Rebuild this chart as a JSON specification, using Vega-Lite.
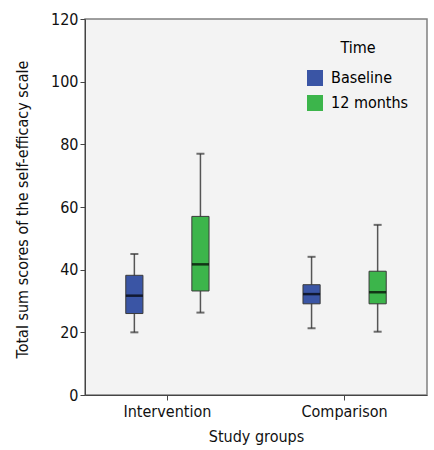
{
  "$schema": "https://vega.github.io/schema/vega-lite/v6.json",
  "width": 342,
  "height": 376,
  "autosize": {"type": "none"},
  "padding": {"left": 85, "top": 19, "right": 7, "bottom": 55},
  "background": "#ffffff",
  "config": {
    "font": "'DejaVu Sans Condensed', 'Liberation Sans', sans-serif",
    "view": {"fill": "#f3f3f3", "stroke": "#808080", "strokeWidth": 1.5},
    "axis": {"labelFont": "'DejaVu Sans Condensed', 'Liberation Sans', sans-serif", "titleFont": "'DejaVu Sans Condensed', 'Liberation Sans', sans-serif", "labelFontSize": 16, "titleFontSize": 16, "labelColor": "#111", "titleColor": "#111", "titleFontWeight": "normal", "domainColor": "#444", "tickColor": "#444", "grid": false},
    "legend": {"labelFont": "'DejaVu Sans Condensed', 'Liberation Sans', sans-serif", "titleFont": "'DejaVu Sans Condensed', 'Liberation Sans', sans-serif"}
  },
  "data": {
    "values": [
      {"group": "Intervention", "time": "Baseline", "lower": 20, "q1": 26, "median": 31.7, "q3": 38.2, "upper": 45},
      {"group": "Intervention", "time": "12 months", "lower": 26.3, "q1": 33.2, "median": 41.7, "q3": 57, "upper": 77},
      {"group": "Comparison", "time": "Baseline", "lower": 21.3, "q1": 29.1, "median": 32.2, "q3": 35.2, "upper": 44.1},
      {"group": "Comparison", "time": "12 months", "lower": 20.2, "q1": 29.1, "median": 32.8, "q3": 39.5, "upper": 54.3}
    ]
  },
  "encoding": {
    "x": {"field": "group", "type": "nominal", "sort": ["Intervention", "Comparison"],
      "scale": {"paddingInner": 0.07, "paddingOuter": 0},
      "axis": {"title": "Study groups", "labelAngle": 0, "labelPadding": 3, "tickSize": 5, "titlePadding": 9}},
    "xOffset": {"field": "time", "type": "nominal", "sort": ["Baseline", "12 months"],
      "scale": {"paddingInner": 0.74, "paddingOuter": 0.617}}
  },
  "layer": [
    {
      "mark": {"type": "rule", "color": "#555555", "strokeWidth": 1.5},
      "encoding": {
        "y": {"field": "lower", "type": "quantitative", "scale": {"domain": [0, 120], "nice": false},
          "axis": {"title": "Total sum scores of the self-efficacy scale", "values": [0, 20, 40, 60, 80, 100, 120], "tickSize": 5, "labelPadding": 2, "titleX": -63, "titleY": 190, "titleAlign": "center", "titleBaseline": "middle"}},
        "y2": {"field": "upper"}
      }
    },
    {
      "mark": {"type": "bar", "stroke": "#3a3a3a", "strokeWidth": 1},
      "encoding": {
        "y": {"field": "q1", "type": "quantitative"},
        "y2": {"field": "q3"},
        "color": {"field": "time", "type": "nominal", "sort": ["Baseline", "12 months"],
          "scale": {"domain": ["Baseline", "12 months"], "range": ["#3a55a5", "#3cb54b"]},
          "legend": {"title": "Time", "orient": "none", "legendX": 222, "legendY": 21, "titleAnchor": "middle", "titleFontSize": 16, "titleFontWeight": "normal", "titlePadding": 14, "labelFontSize": 16, "symbolType": "square", "symbolSize": 256, "symbolStrokeWidth": 0, "rowPadding": 9, "labelOffset": 8}}
      }
    },
    {
      "mark": {"type": "tick", "color": "#000000", "thickness": 2.5, "size": 17},
      "encoding": {"y": {"field": "median", "type": "quantitative"}}
    },
    {
      "mark": {"type": "tick", "color": "#333333", "thickness": 2, "size": 8},
      "encoding": {"y": {"field": "lower", "type": "quantitative"}}
    },
    {
      "mark": {"type": "tick", "color": "#333333", "thickness": 2, "size": 8},
      "encoding": {"y": {"field": "upper", "type": "quantitative"}}
    }
  ]
}
